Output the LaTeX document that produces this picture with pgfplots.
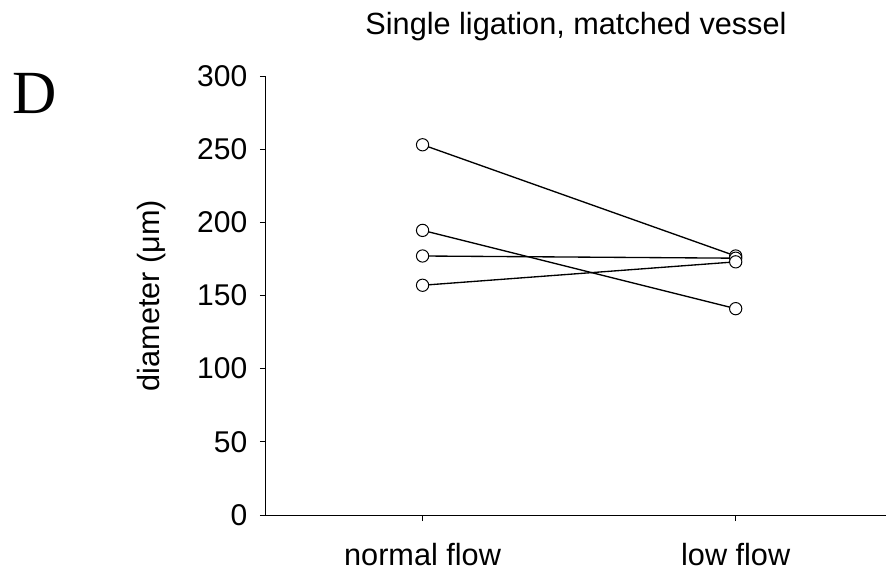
\documentclass[border=0pt]{standalone}
\usepackage{fontspec}
\setmainfont{Liberation Sans}
\newfontfamily\timesfont{Liberation Serif}
\usepackage{pgfplots}
\pgfplotsset{compat=1.18}
\begin{document}
\begin{tikzpicture}
\useasboundingbox (-199.5pt,-42.75pt) rectangle (465pt,386.25pt);
\begin{axis}[
    scale only axis,
    width=465pt, height=329.25pt,
    xmin=-0.5, xmax=1.48,
    ymin=0, ymax=300,
    axis x line=bottom, axis y line=left,
    axis line style={-, line width=0.75pt},
    xtick={0,1}, xticklabels={normal flow, low flow},
    ytick={0,50,...,300},
    tick align=outside,
    major tick length=4.5pt,
    tick style={line width=0.75pt, black},
    /pgf/number format/assume math mode=true,
    yticklabel style={font=\fontsize{22.5}{26}\selectfont, xshift=-6pt},
    xticklabel style={font=\fontsize{23}{27}\selectfont, anchor=base, yshift=-33pt},
    ylabel={diameter (μm)},
    ylabel style={font=\fontsize{23}{27}\selectfont, at={(axis description cs:-0.184,0.5)}, anchor=center},
    title={Single ligation, matched vessel},
    title style={font=\fontsize{23}{27}\selectfont, at={(axis description cs:0.5,1)}, anchor=base, yshift=25pt},
    clip=false,
]
\addplot[black, line width=1pt, mark=*, mark size=4.6pt, mark options={fill=white, line width=0.75pt}] coordinates {(0,253) (1,177)};
\addplot[black, line width=1pt, mark=*, mark size=4.6pt, mark options={fill=white, line width=0.75pt}] coordinates {(0,194.5) (1,141)};
\addplot[black, line width=1pt, mark=*, mark size=4.6pt, mark options={fill=white, line width=0.75pt}] coordinates {(0,177) (1,175.5)};
\addplot[black, line width=1pt, mark=*, mark size=4.6pt, mark options={fill=white, line width=0.75pt}] coordinates {(0,157) (1,173)};
\end{axis}
\node[anchor=base west, font=\timesfont\fontsize{46}{50}\selectfont, inner sep=0pt] at (-190.5pt,300.75pt) {D};
\end{tikzpicture}
\end{document}
